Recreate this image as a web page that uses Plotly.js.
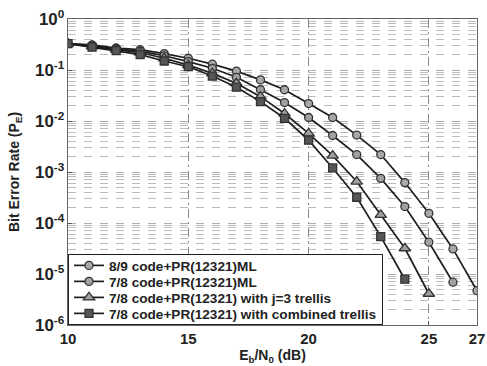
<!DOCTYPE html>
<html>
<head>
<meta charset="utf-8">
<script src="https://cdn.plot.ly/plotly-3.0.1.min.js"></script>
<style>html,body{margin:0;padding:0;background:#fff;}#chart{width:487px;height:366px;}</style>
</head>
<body>
<div id="chart"></div>
<script>
var names = [
  "8/9 code+PR(12321)ML",
  "7/8 code+PR(12321)ML",
  "7/8 code+PR(12321) with j=3 trellis",
  "7/8 code+PR(12321) with combined trellis"
];
var x89 = [10,11,12,13,14,15,16,17,18,19,20,21,22,23,24,25,26,27];
var ber89 = [0.33,0.31,0.27,0.25,0.21,0.17,0.13,0.095,0.064,0.041,0.022,0.0117,0.0053,0.0022,6.2e-4,1.55e-4,3.1e-5,4.7e-6];
var x78 = [10,11,12,13,14,15,16,17,18,19,20,21,22,23,24,25,26];
var ber78 = [0.33,0.30,0.26,0.235,0.19,0.146,0.108,0.072,0.041,0.023,0.0117,0.0052,0.0022,7.5e-4,2.1e-4,4.2e-5,6.9e-6];
var xj3 = [10,11,12,13,14,15,16,17,18,19,20,21,22,23,24,25];
var berj3 = [0.33,0.29,0.25,0.22,0.17,0.125,0.086,0.055,0.030,0.014,0.0057,0.0021,6.5e-4,1.44e-4,3.2e-5,4.1e-6];
var xcomb = [10,11,12,13,14,15,16,17,18,19,20,21,22,23,24];
var bercomb = [0.33,0.28,0.24,0.20,0.15,0.116,0.076,0.046,0.024,0.0113,0.0042,0.0012,3.2e-4,5.4e-5,7.9e-6];
var xTicks = [10,15,20,25,27];
var yExps = [0,1,2,3,4,5,6];

// tick label aliases: show 10^0 ... 10^-6 with a plain hyphen
var yAlias = {"1": "10<sup>0</sup>"};
yExps.forEach(function(e){
  if (e === 0) return;
  yAlias["10<sup>\u2212" + e + "</sup>"] = "10<sup>-" + e + "</sup>";
  yAlias["10<sup>-" + e + "</sup>"] = "10<sup>-" + e + "</sup>";
});

var lineC = '#1e1e1e';
function tr(x, y, name, sym, size, fill) {
  return {x: x, y: y, name: name, type: 'scatter', mode: 'lines+markers',
    line: {color: lineC, width: 1.7},
    marker: {symbol: sym, size: size, color: fill, line: {color: '#333', width: 1.3}}};
}
var data = [
  tr(x89, ber89, names[0], 'circle', 8, '#a8a8a8'),
  tr(x78, ber78, names[1], 'circle', 8, '#a0a0a0'),
  tr(xj3, berj3, names[2], 'triangle-up', 10, '#a0a0a0'),
  tr(xcomb, bercomb, names[3], 'square', 8, '#555')
];
var layout = {
  width: 487, height: 366,
  margin: {l: 68, r: 10, t: 19, b: 41},
  paper_bgcolor: '#fff', plot_bgcolor: '#fff',
  font: {family: 'Liberation Sans, Arial, sans-serif', color: '#222'},
  showlegend: true,
  legend: {x: 0, y: 0, xanchor: 'left', yanchor: 'bottom', bgcolor: '#fff',
    bordercolor: '#222', borderwidth: 1, font: {size: 13.6, weight: 'bold', color: '#222'},
    itemwidth: 30, tracegroupgap: 0},
  xaxis: {range: [10, 27], tickvals: xTicks, ticktext: xTicks.map(String),
    tickfont: {size: 15, weight: 'bold'}, ticks: 'inside', ticklen: 4, tickcolor: '#555',
    showline: true, mirror: true, linecolor: '#666', linewidth: 1,
    showgrid: true, gridcolor: '#888', griddash: '9px,4px,2px,4px', gridwidth: 1,
    zeroline: false,
    title: {text: 'E<sub>b</sub>/N<sub>0</sub> (dB)', font: {size: 14, weight: 'bold'}, standoff: 4}},
  yaxis: {type: 'log', range: [-6, 0], tickmode: 'linear', tick0: 0, dtick: 1,
    exponentformat: 'power', showexponent: 'all', labelalias: yAlias,
    tickfont: {size: 13.5, weight: 'bold'}, ticks: 'inside', ticklen: 4, tickcolor: '#555',
    showline: true, mirror: true, linecolor: '#666', linewidth: 1,
    showgrid: true, gridcolor: '#aaa', griddash: '8px,8px', gridwidth: 1,
    minor: {dtick: 'D1', showgrid: true, gridcolor: '#bbb', griddash: '8px,8px', gridwidth: 1},
    zeroline: false,
    title: {text: 'Bit Error Rate (P<sub>E</sub>)', font: {size: 14, weight: 'bold'}, standoff: 12}}
};
function fixLegend(gd) {
  var leg = gd.querySelector('.legend');
  if (!leg) return;
  var traces = leg.querySelectorAll('.traces');
  if (traces.length < 2) return;
  var step = 16, pad = 5;
  var ys = [];
  for (var i = 0; i < traces.length; i++) {
    var r = traces[i].querySelector('.legendtext').getBoundingClientRect();
    ys.push(r.top + r.height / 2);
  }
  for (var j = 0; j < traces.length; j++) {
    var d = ys[0] + j * step - ys[j] - pad;
    var t = traces[j].getAttribute('transform') || '';
    traces[j].setAttribute('transform', t + ' translate(0,' + d + ')');
  }
  var shrink = (ys[ys.length - 1] - ys[0]) - (traces.length - 1) * step + 2 * pad;
  var bg = leg.querySelector('rect.bg');
  if (bg) bg.setAttribute('height', parseFloat(bg.getAttribute('height')) - shrink);
  var lt = leg.getAttribute('transform') || '';
  leg.setAttribute('transform', lt + ' translate(0,' + shrink + ')');
}
Plotly.newPlot('chart', data, layout, {displayModeBar: false, staticPlot: true}).then(function(gd){
  fixLegend(gd);
});
</script>
</body>
</html>
